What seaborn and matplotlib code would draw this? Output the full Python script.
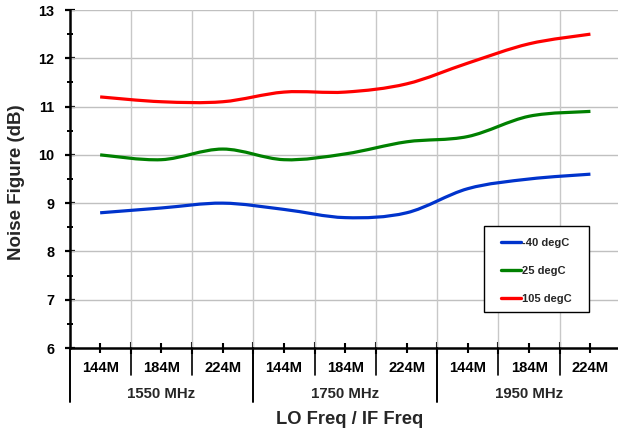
import numpy as np
import pandas as pd
import seaborn as sns
import matplotlib
matplotlib.use("Agg")
import matplotlib.pyplot as plt
from matplotlib.path import Path
from matplotlib.patches import PathPatch, Rectangle
from matplotlib.lines import Line2D
import matplotlib.transforms as mtransforms

# ---------------- data ----------------
if_labels = ["144M", "184M", "224M"] * 3
lo_groups = ["1550 MHz", "1750 MHz", "1950 MHz"]
series_names = ["-40 degC", "25 degC", "105 degC"]
nf_m40 = [8.8, 8.9, 9.0, 8.87, 8.7, 8.8, 9.3, 9.5, 9.6]
nf_25 = [10.0, 9.9, 10.12, 9.9, 10.02, 10.27, 10.38, 10.8, 10.9]
nf_105 = [11.2, 11.1, 11.1, 11.3, 11.3, 11.47, 11.9, 12.3, 12.5]
colors = ["#0033CC", "#008000", "#FF0000"]

sns.set_style("white")
plt.rcParams["font.family"] = ["Liberation Sans", "DejaVu Sans"]
plt.rcParams["font.weight"] = "bold"

W, H = 618, 433
fig = plt.figure(figsize=(W / 100, H / 100), dpi=100)
ax_left, ax_top, ax_bot = 69.5, 10, 348
axw = W - ax_left
axh = ax_bot - ax_top
ax = fig.add_axes([ax_left / W, 1 - ax_bot / H, axw / W, axh / H])


def ax_x(px):
    return (px - ax_left) / axw


def ax_y(py):
    return (ax_bot - py) / axh


x = np.arange(len(if_labels))
df = pd.DataFrame({
    "x": np.tile(x, 3),
    "nf": nf_m40 + nf_25 + nf_105,
    "series": np.repeat(series_names, len(x)),
})
sns.lineplot(data=df, x="x", y="nf", hue="series", palette=colors,
             hue_order=series_names, ax=ax, legend=False, lw=2.3)

# replace straight segments with smoothed (Bezier) curves through same points
for line, c in zip(list(ax.get_lines()), colors):
    xs, ys = line.get_xdata(), line.get_ydata()
    pts = np.column_stack([xs, ys])
    verts = [pts[0]]
    codes = [Path.MOVETO]
    n = len(pts)
    for i in range(n - 1):
        p0 = pts[i - 1] if i > 0 else pts[i]
        p1 = pts[i]
        p2 = pts[i + 1]
        p3 = pts[i + 2] if i + 2 < n else pts[i + 1]
        c1 = p1 + (p2 - p0) / 6.0
        c2 = p2 - (p3 - p1) / 6.0
        verts += [c1, c2, p2]
        codes += [Path.CURVE4] * 3
    ax.add_patch(PathPatch(Path(verts, codes), fill=False, edgecolor=c,
                           lw=2.3, capstyle="butt", zorder=3))
    line.set_visible(False)

# axes limits and grid
ax.set_xlim(-0.5, 8.45)
ax.set_ylim(6, 13)
ax.set_yticks(range(6, 14))
ax.set_yticks(np.arange(6.5, 13, 1.0), minor=True)
ax.set_xticks(x)
ax.set_xticklabels(if_labels)
ax.set_xticks(np.arange(0.5, 8.5, 1.0), minor=True)

for yv in range(7, 14):
    ax.axhline(yv, color="#C0C0C0", lw=1.0, zorder=1)
for xv in np.arange(0.5, 8.5, 1.0):
    ax.axvline(xv, color="#C8C8C8", lw=1.0, zorder=1)

for s in ["top", "right"]:
    ax.spines[s].set_visible(False)
for s in ["left", "bottom"]:
    ax.spines[s].set_color("black")
    ax.spines[s].set_linewidth(1.8)
    ax.spines[s].set_zorder(4)

ax.tick_params(axis="y", which="major", direction="inout", length=7, width=1.6,
               labelsize=10.4, pad=7.3, colors="black")
ax.tick_params(axis="y", which="minor", direction="inout", length=5, width=1.4,
               colors="black")
ax.tick_params(axis="x", which="major", direction="inout", length=7, width=1.5,
               labelsize=10.6, pad=5.6, colors="black")
ax.tick_params(axis="x", which="minor", direction="inout", length=8, width=1.5,
               colors="black")
ax.yaxis.set_ticks_position("left")
ax.xaxis.set_ticks_position("bottom")
for lab in ax.get_xticklabels() + ax.get_yticklabels():
    lab.set_fontweight("bold")

# multi-level category separators
trans = mtransforms.blended_transform_factory(ax.transData, ax.transAxes)
for xv in np.arange(0.5, 8.5, 1.0):
    if xv in (2.5, 5.5):
        continue
    ax.add_line(Line2D([xv, xv], [0, ax_y(375)], transform=trans, color="black",
                       lw=1.2, clip_on=False))
for xv in (-0.5, 2.5, 5.5):
    ax.add_line(Line2D([xv, xv], [0, ax_y(402)], transform=trans, color="black",
                       lw=1.4, clip_on=False))
for gi, g in enumerate(lo_groups):
    ax.text(gi * 3 + 1, ax_y(394.5), g, transform=trans, ha="center",
            va="center", fontsize=10.8, fontweight="bold")

ax.set_xlabel("LO Freq / IF Freq", fontsize=13.2, fontweight="bold")
ax.xaxis.label.set_va("center")
ax.xaxis.set_label_coords(ax_x(349.5), ax_y(420))
ax.set_ylabel("Noise Figure (dB)", fontsize=13.5, fontweight="bold")
ax.yaxis.label.set_va("center")
ax.yaxis.set_label_coords(ax_x(16.5), ax_y(182.5))

# legend box and entries
ax.add_patch(Rectangle((ax_x(484), ax_y(312)), ax_x(589) - ax_x(484),
                       ax_y(226) - ax_y(312), transform=ax.transAxes,
                       facecolor="white", edgecolor="black", lw=1.0,
                       zorder=5, clip_on=False))
handles = [Line2D([], [], color=c, lw=2.4) for c in colors]
leg = ax.legend(handles, series_names, loc="upper left",
                bbox_to_anchor=(ax_x(501), ax_y(238)),
                frameon=False, handlelength=1.8,
                handletextpad=0.05, labelspacing=1.63, borderpad=0,
                borderaxespad=0, prop={"weight": "bold", "size": 8})
leg.set_zorder(6)

fig.savefig("out.png", dpi=100)
